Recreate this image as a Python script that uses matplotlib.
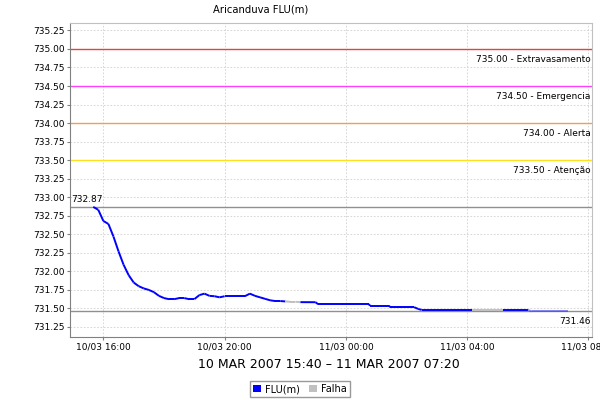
import matplotlib
matplotlib.use("Agg")
import matplotlib.pyplot as plt
import matplotlib.dates as mdates
from matplotlib.patches import Patch
import pandas as pd

# leituras FLU(m), 10/03/2007 15:40 -> 11/03/2007 07:20
times = ["2007-03-10 15:40", "2007-03-10 15:50", "2007-03-10 16:00", "2007-03-10 16:10",
         "2007-03-10 16:20", "2007-03-10 16:30", "2007-03-10 16:40", "2007-03-10 16:50",
         "2007-03-10 17:00", "2007-03-10 17:10", "2007-03-10 17:20", "2007-03-10 17:30",
         "2007-03-10 17:40", "2007-03-10 17:50", "2007-03-10 18:00", "2007-03-10 18:10",
         "2007-03-10 18:20", "2007-03-10 18:30", "2007-03-10 18:40", "2007-03-10 18:50",
         "2007-03-10 19:00", "2007-03-10 19:10", "2007-03-10 19:20", "2007-03-10 19:30",
         "2007-03-10 19:40", "2007-03-10 19:50", "2007-03-10 20:00", "2007-03-10 20:10",
         "2007-03-10 20:20", "2007-03-10 20:30", "2007-03-10 20:40", "2007-03-10 20:50",
         "2007-03-10 21:00", "2007-03-10 21:10", "2007-03-10 21:20", "2007-03-10 21:30",
         "2007-03-10 21:40", "2007-03-10 21:50", "2007-03-10 22:00", "2007-03-10 22:10",
         "2007-03-10 22:20", "2007-03-10 22:30", "2007-03-10 23:00", "2007-03-10 23:05",
         "2007-03-11 00:45", "2007-03-11 00:48", "2007-03-11 01:25", "2007-03-11 01:28",
         "2007-03-11 02:15", "2007-03-11 02:23", "2007-03-11 02:30", "2007-03-11 04:10",
         "2007-03-11 05:10", "2007-03-11 06:00", "2007-03-11 06:08", "2007-03-11 07:20"]
flu = [732.87, 732.83, 732.68, 732.64, 732.47, 732.27, 732.09, 731.95,
       731.85, 731.80, 731.77, 731.75, 731.72, 731.67, 731.64, 731.625,
       731.625, 731.64, 731.64, 731.625, 731.625, 731.68, 731.70, 731.67,
       731.665, 731.65, 731.665, 731.665, 731.665, 731.665, 731.665, 731.70,
       731.67, 731.65, 731.63, 731.61, 731.60, 731.60, 731.595, 731.59,
       731.59, 731.585, 731.584, 731.557, 731.557, 731.538, 731.538, 731.517,
       731.517, 731.494, 731.48, 731.48, 731.48, 731.48, 731.46, 731.46]
# segmento que comeca em cada ponto: 0 = FLU(m), 1 = Falha, 2 = FLU(m) estimado
status = [0] * 38 + [1, 1, 1] + [0] * 10 + [1] + [0] + [2, 2, 2]

limites = [735.00, 734.50, 734.00, 733.50]
nomes = ["Extravasamento", "Emergencia", "Alerta", "Atenção"]
cores_lim = ["#e84040", "#ff40ff", "#f0a050", "#ffe020"]

t = pd.to_datetime(times)

fig = plt.figure(figsize=(6, 4), dpi=100)
ax = fig.add_axes([70 / 600, 1 - 337 / 400, 522 / 600, 314 / 400])

# linhas de cota
for v, nome, c in zip(limites, nomes, cores_lim):
    ax.axhline(v, color=c, lw=1, zorder=2)
    ax.annotate(f"{v:.2f} - {nome}", xy=(1, v), xycoords=("axes fraction", "data"),
                xytext=(-1, -4), textcoords="offset points", ha="right", va="top", fontsize=6.5)

ax.axhline(flu[0], color="#909090", lw=1, zorder=2)
ax.axhline(flu[-1], color="#909090", lw=1, zorder=2)
ax.annotate(f"{flu[0]:.2f}", xy=(0, flu[0]), xycoords=("axes fraction", "data"),
            xytext=(1, 2), textcoords="offset points", ha="left", va="bottom", fontsize=6.5)
ax.annotate(f"{flu[-1]:.2f}", xy=(1, flu[-1]), xycoords=("axes fraction", "data"),
            xytext=(-1, -4), textcoords="offset points", ha="right", va="top", fontsize=6.5)

# serie, por trechos
estilo = {0: dict(color="#0000ff", lw=1.4, alpha=1),
          1: dict(color="#c0c0c0", lw=1.4, alpha=1),
          2: dict(color="#3030ff", lw=1.4, alpha=0.55)}
for i in range(len(t) - 1):
    ax.plot(t[i:i + 2], flu[i:i + 2], solid_capstyle="butt", zorder=3, **estilo[status[i]])

ax.set_ylim(731.115, 735.35)
ax.set_yticks([731.25 + 0.25 * k for k in range(17)])
ax.yaxis.set_major_formatter(plt.FormatStrFormatter("%.2f"))
ax.set_xlim(pd.Timestamp("2007-03-10 14:54"), pd.Timestamp("2007-03-11 08:07"))
ax.xaxis.set_major_locator(mdates.HourLocator(byhour=[0, 4, 8, 12, 16, 20]))
ax.xaxis.set_major_formatter(mdates.DateFormatter("%d/%m %H:%M"))
ax.tick_params(labelsize=6.5, length=2, width=0.8, color="#808080", pad=2)
ax.grid(True, color="#d0d0d0", lw=0.6, ls=(0, (2, 2)))
ax.set_axisbelow(True)
for s in ["left", "bottom"]:
    ax.spines[s].set_color("#808080")
for s in ["top", "right"]:
    ax.spines[s].set_color("#c0c0c0")

fig.text(261 / 600, 1 - 10 / 400, "Aricanduva FLU(m)", ha="center", va="center", fontsize=7.2)
fig.text(329 / 600, 1 - 364 / 400, "10 MAR 2007 15:40 – 11 MAR 2007 07:20",
         ha="center", va="center", fontsize=9)

handles = [Patch(facecolor="#0000ff", label="FLU(m)"), Patch(facecolor="#c0c0c0", label="Falha")]
fig.legend(handles=handles, loc="center", bbox_to_anchor=(300 / 600, 1 - 389 / 400), ncol=2,
           fontsize=7, frameon=True, fancybox=False, edgecolor="#808080",
           handlelength=0.8, handleheight=0.8, handletextpad=0.4, columnspacing=1.0,
           borderpad=0.3, borderaxespad=0)

fig.savefig("out.png", dpi=100)
